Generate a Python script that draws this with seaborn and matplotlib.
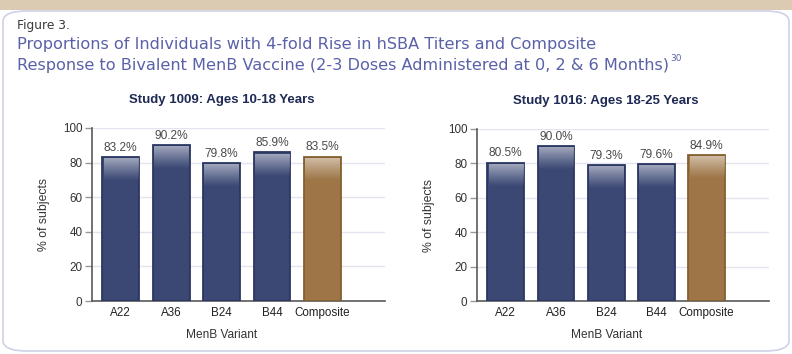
import matplotlib
matplotlib.use('Agg')
import matplotlib.pyplot as plt
import numpy as np
import pandas as pd
import seaborn as sns
from matplotlib.patches import FancyBboxPatch, Rectangle

# data
variants = ["A22", "A36", "B24", "B44", "Composite"]
study_1009 = [83.2, 90.2, 79.8, 85.9, 83.5]
study_1016 = [80.5, 90.0, 79.3, 79.6, 84.9]
titles = ["Study 1009: Ages 10-18 Years", "Study 1016: Ages 18-25 Years"]

navy = "#3b4874"
brown = "#9d7546"
palette = {v: navy for v in variants}
palette["Composite"] = brown
edges = {navy: "#2b3762", brown: "#84602f"}

sns.set_theme(style="white")
plt.rcParams['font.family'] = ['Liberation Sans', 'DejaVu Sans']

W, H = 792, 354
fig = plt.figure(figsize=(W / 100, H / 100), dpi=100)

# panel frame + tan band on top
fig.patches.append(FancyBboxPatch((3 / W, 3 / H), 786 / W, 340 / H,
                                  boxstyle="round,pad=0,rounding_size=0.03",
                                  transform=fig.transFigure, facecolor="white",
                                  edgecolor="#cfd2e8", lw=1.2, zorder=-5))
fig.patches.append(Rectangle((0, 1 - 10 / H), 1, 10 / H, transform=fig.transFigure,
                             facecolor="#dccbb3", edgecolor="none", zorder=-4))

fig.text(17 / W, 1 - 29.5 / H, "Figure 3.", fontsize=8.8, color="#3a3a3a",
         family="DejaVu Sans")
head_kw = dict(fontsize=11.6, color="#5a61a8", family="DejaVu Sans")
fig.text(17 / W, 1 - 48.5 / H, "Proportions of Individuals with 4-fold Rise in hSBA Titers and Composite", **head_kw)
line2 = fig.text(17 / W, 1 - 70 / H, "Response to Bivalent MenB Vaccine (2-3 Doses Administered at 0, 2 & 6 Months)", **head_kw)

axes_px = [(92, 385, 128, 301), (477, 769, 129, 301)]
xlim = (-0.57, 5.24)

for (x0, x1, yt, yb), vals, title in zip(axes_px, [study_1009, study_1016], titles):
    ax = fig.add_axes([x0 / W, 1 - yb / H, (x1 - x0) / W, (yb - yt) / H])
    ax.patch.set_alpha(0)
    df = pd.DataFrame({"variant": variants, "pct": vals})
    sns.barplot(data=df, x="variant", y="pct", hue="variant", palette=palette,
                saturation=1, width=0.73, legend=False, ax=ax, zorder=3)

    for patch in ax.patches:
        base = matplotlib.colors.to_hex(patch.get_facecolor()[:3])
        patch.set_edgecolor(edges.get(base, "#2b3762"))
        patch.set_linewidth(1.3)
        # soft light gradient at the top of each bar
        bx, bw, top = patch.get_x(), patch.get_width(), patch.get_height()
        n = 64
        grad = np.zeros((n, 1, 4))
        grad[..., :3] = 1.0
        grad[:, 0, 3] = np.linspace(0.55, 0.0, n) ** 1.1
        ax.imshow(grad, extent=[bx + 0.025, bx + bw - 0.025, top - 14, top - 1.0],
                  aspect="auto", zorder=4, interpolation="bicubic", origin="upper")

    for i, v in enumerate(vals):
        ax.text(i, v + 1.8, f"{v:.1f}%", ha="center", va="bottom",
                fontsize=8.6, color="#4a4a4a")

    ax.set_xlim(*xlim)
    ax.set_ylim(0, 100)
    ax.set_yticks([0, 20, 40, 60, 80, 100])
    ax.yaxis.grid(True, color="#e3e4f0", lw=1)
    ax.set_axisbelow(True)
    for s in ["top", "right"]:
        ax.spines[s].set_visible(False)
    for s in ["left", "bottom"]:
        ax.spines[s].set_color("#5a5a5a")
        ax.spines[s].set_linewidth(1.2)
    ax.tick_params(axis="y", length=5, width=1, color="#999999", labelsize=8.4,
                   labelcolor="#333333", pad=2, left=True)
    ax.tick_params(axis="x", length=0, labelsize=8.4, labelcolor="#222222", pad=4)

    cx = (2 - xlim[0]) / (xlim[1] - xlim[0])
    ax.set_title(title, fontsize=9.5, fontweight="bold", color="#1f2a55", x=cx, pad=18)
    ax.set_xlabel("MenB Variant", fontsize=8.6, color="#333333")
    ax.xaxis.set_label_coords(cx, -0.16)
    ax.set_ylabel("% of subjects", fontsize=8.8, color="#333333", labelpad=9)

# superscript reference after the second header line
fig.canvas.draw()
bb = line2.get_window_extent()
fig.text(bb.x1 / W + 1 / W, 1 - 61 / H, "30", fontsize=6.5, color="#5a61a8",
         family="DejaVu Sans")

fig.savefig("out.png", dpi=100)
